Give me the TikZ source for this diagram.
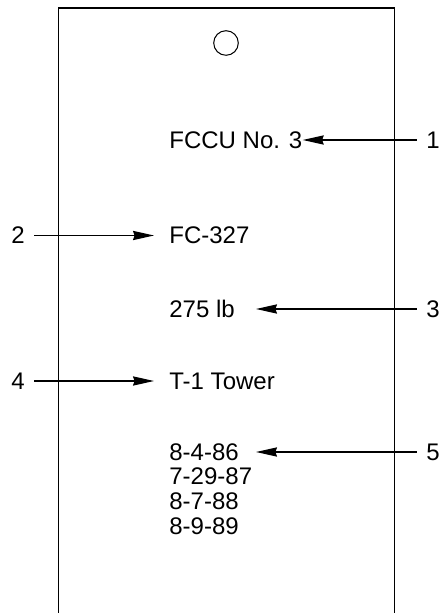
\documentclass[tikz,border=0pt]{standalone}
\usepackage{fontspec}
\setmainfont{Liberation Sans}
\usetikzlibrary{positioning,arrows.meta}
\tikzset{
  txt/.style={font=\fontsize{12}{12}\selectfont, inner sep=0pt, anchor=west},
  num/.style={font=\fontsize{12}{12}\selectfont, inner xsep=4.5pt, inner ysep=0pt},
  callout/.style={-{Stealth[length=10.5pt, width=4.6pt, inset=0.8pt]}, line width=0.6pt},
  outline/.style={line width=0.65pt},
}

\begin{document}
\begin{tikzpicture}[x=0.5pt, y=-0.5pt]
  \useasboundingbox (0,0) rectangle (442,613);
  % tag, cut off at the bottom
  \draw[outline] (58.5,616) |- (394.5,8) -- (394.5,616);
  \node[circle, draw, line width=0.5pt, minimum size=12.3pt, inner sep=0pt] (hole) at (226,43) {};

  \node[txt] (unit) at (169,140) {FCCU No. 3};
  \node[txt] (tagno) at (169,235.5) {FC-327};
  \node[txt] (press) at (169,309) {275 lb};
  \node[txt] (loc) at (169,381) {T-1 Tower};
  \node[txt] (d1) at (169,452) {8-4-86};
  \node[txt, below=3.4pt of d1.south west, anchor=north west] (d2) {7-29-87};
  \node[txt, below=3.4pt of d2.south west, anchor=north west] (d3) {8-7-88};
  \node[txt, below=3.4pt of d3.south west, anchor=north west] (d4) {8-9-89};

  \node[num] (n1) at (433,140) {1};
  \node[num] (n2) at (18,235.5) {2};
  \node[num] (n3) at (433,309) {3};
  \node[num] (n4) at (18,381) {4};
  \node[num] (n5) at (433,452) {5};

  \coordinate (tip3) at (256,309);
  \coordinate (tip5) at (256,452);

  \draw[callout] (n1) -- (unit);
  \draw[callout, shorten >=7.5pt] (n2) -- (tagno);
  \draw[callout] (n3) -- (tip3);
  \draw[callout, shorten >=7.5pt] (n4) -- (loc);
  \draw[callout] (n5) -- (tip5);
\end{tikzpicture}
\end{document}
